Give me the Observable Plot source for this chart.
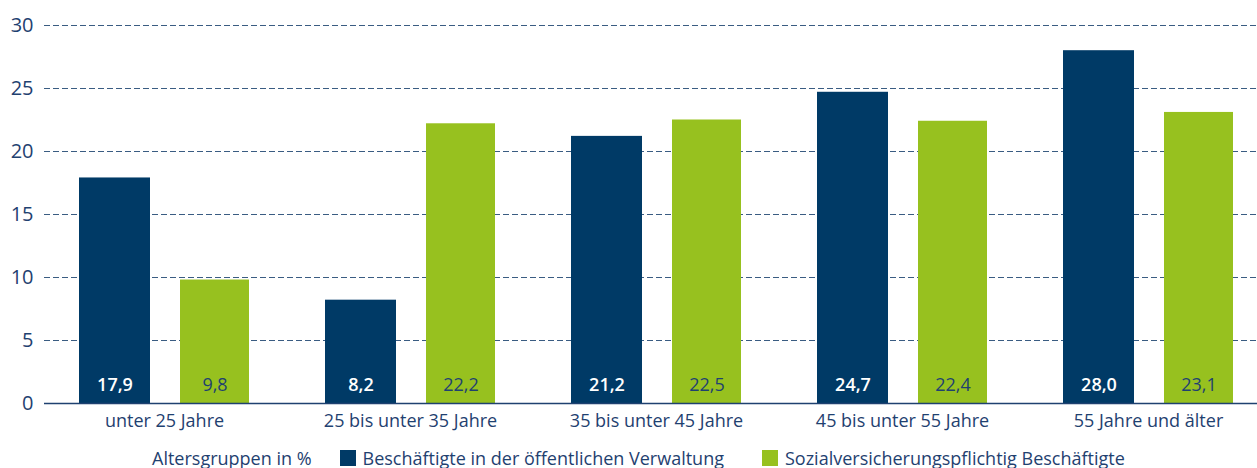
<!DOCTYPE html>
<html>
<head>
<meta charset="utf-8">
<script src="https://cdn.jsdelivr.net/npm/d3@7"></script>
<script src="https://cdn.jsdelivr.net/npm/@observablehq/plot@0.6"></script>
<style>
  body { margin: 0; background: #fff; font-family: "Open Sans", sans-serif; }
  #legend { display: flex; align-items: center; height: 26px; font-size: 18px; color: #1f4170; padding-left: 152px; white-space: nowrap; }
  #legend .sw { display: inline-block; width: 16px; height: 16px; margin-right: 7px; }
  #legend .item { display: flex; align-items: center; }
</style>
</head>
<body>
<div id="chart"></div>
<div id="legend"></div>
<script>
const groups = ["unter 25 Jahre", "25 bis unter 35 Jahre", "35 bis unter 45 Jahre", "45 bis unter 55 Jahre", "55 Jahre und älter"];
const seriesNames = ["Beschäftigte in der öffentlichen Verwaltung", "Sozialversicherungspflichtig Beschäftigte"];
const oeffentlich = [17.9, 8.2, 21.2, 24.7, 28.0];
const sozial = [9.8, 22.2, 22.5, 22.4, 23.1];
const yTicks = [0, 5, 10, 15, 20, 25, 30];
const legendTitle = "Altersgruppen in %";

const colors = ["#003a66", "#97c11f"];
const textColor = "#1f4170";

const dataA = groups.map((g, i) => ({group: g, value: oeffentlich[i]}));
const dataB = groups.map((g, i) => ({group: g, value: sozial[i]}));
const fmt = v => v.toFixed(1).replace(".", ",");

const chart = Plot.plot({
  width: 1257,
  height: 445,
  marginLeft: 44,
  marginRight: 0,
  marginTop: 25,
  marginBottom: 42,
  style: {fontFamily: "Open Sans, sans-serif", color: textColor, background: "#fff"},
  x: {domain: groups, range: [41, 1271], padding: 0, label: null},
  y: {domain: [0, 30], label: null},
  marks: [
    Plot.ruleY(yTicks.filter(d => d > 0), {stroke: "#3a5c82", strokeWidth: 1, strokeDasharray: "6,3"}),
    Plot.barY(dataA, {x: "group", y: "value", fill: colors[0], insetLeft: 38, insetRight: 137}),
    Plot.barY(dataB, {x: "group", y: "value", fill: colors[1], insetLeft: 139, insetRight: 38}),
    Plot.ruleY([0], {stroke: "#1f4170", strokeWidth: 1.5}),
    Plot.text(dataA, {x: "group", y: 0, text: d => fmt(d.value), dx: -49.5, dy: -18, fill: "#fff", fontSize: 18, fontWeight: 600}),
    Plot.text(dataB, {x: "group", y: 0, text: d => fmt(d.value), dx: 50.5, dy: -18, fill: textColor, fontSize: 18}),
    Plot.axisY({ticks: yTicks, tickSize: 0, tickPadding: 11, fontSize: 20, label: null, fill: textColor}),
    Plot.axisX({tickSize: 0, tickPadding: 11, fontSize: 18, label: null, fill: textColor})
  ]
});
document.getElementById("chart").appendChild(chart);

const legend = document.getElementById("legend");
const title = document.createElement("span");
title.textContent = legendTitle;
title.style.marginRight = "28px";
legend.appendChild(title);
seriesNames.forEach((name, i) => {
  const item = document.createElement("span");
  item.className = "item";
  item.style.marginRight = i === 0 ? "38px" : "0";
  const sw = document.createElement("span");
  sw.className = "sw";
  sw.style.background = colors[i];
  const t = document.createElement("span");
  t.textContent = name;
  item.appendChild(sw);
  item.appendChild(t);
  legend.appendChild(item);
});
</script>
</body>
</html>
